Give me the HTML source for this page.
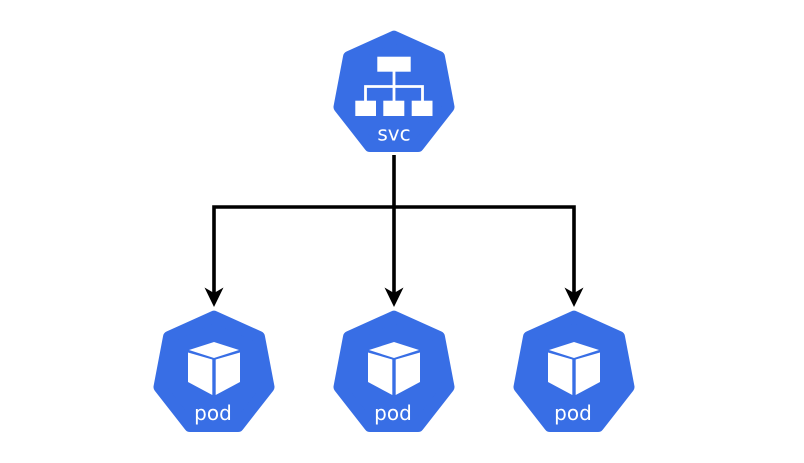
<!DOCTYPE html>
<html>
<head>
<meta charset="utf-8">
<style>
html,body{margin:0;padding:0;background:#fff;width:804px;height:463px;overflow:hidden}
svg{display:block}
text{font-family:"DejaVu Sans",sans-serif;font-size:20px;fill:#fff;text-anchor:middle}
</style>
</head>
<body>
<svg width="804" height="463" viewBox="0 0 804 463" xmlns="http://www.w3.org/2000/svg">
<defs>
<polygon id="h" points="0,6.700 45,27 54.500,77 24,116 -24,116 -54.500,77 -45,27" fill="#386ee5" stroke="#386ee5" stroke-width="12" stroke-linejoin="round"/>
<g id="cube" fill="#fff">
<polygon points="0,32 25,40 0,48 -25,40"/>
<polygon points="-26,42.500 -1.700,49.500 -1.700,85 -26,72"/>
<polygon points="26,42.500 1.700,49.500 1.700,85 26,72"/>
</g>
<g id="arrow">
<polygon points="0,307 -9.500,287.500 0,293 9.500,287.500" fill="#000"/>
</g>
</defs>

<g fill="none" stroke="#000" stroke-width="3.600">
<path d="M394 155V296"/>
<path d="M394 207H214V296"/>
<path d="M394 207H574V296"/>
</g>
<use href="#arrow" x="214"/>
<use href="#arrow" x="394"/>
<use href="#arrow" x="574"/>

<use href="#h" x="394" y="30"/>
<use href="#h" x="214" y="310"/>
<use href="#h" x="394" y="310"/>
<use href="#h" x="574" y="310"/>

<g fill="#fff">
<rect x="377.300" y="56.700" width="33.400" height="15"/>
<rect x="355.300" y="100.700" width="20.700" height="15.300"/>
<rect x="383.300" y="100.700" width="21" height="15.300"/>
<rect x="411.700" y="100.700" width="20.800" height="15.300"/>
</g>
<path d="M394 71V101M365.500 101V86.500H422.500V101" fill="none" stroke="#fff" stroke-width="2.800"/>
<text x="394" y="140.500">svc</text>

<use href="#cube" x="214" y="310"/>
<use href="#cube" x="394" y="310"/>
<use href="#cube" x="574" y="310"/>
<text x="213" y="420">pod</text>
<text x="393" y="420">pod</text>
<text x="573" y="420">pod</text>
</svg>
</body>
</html>
